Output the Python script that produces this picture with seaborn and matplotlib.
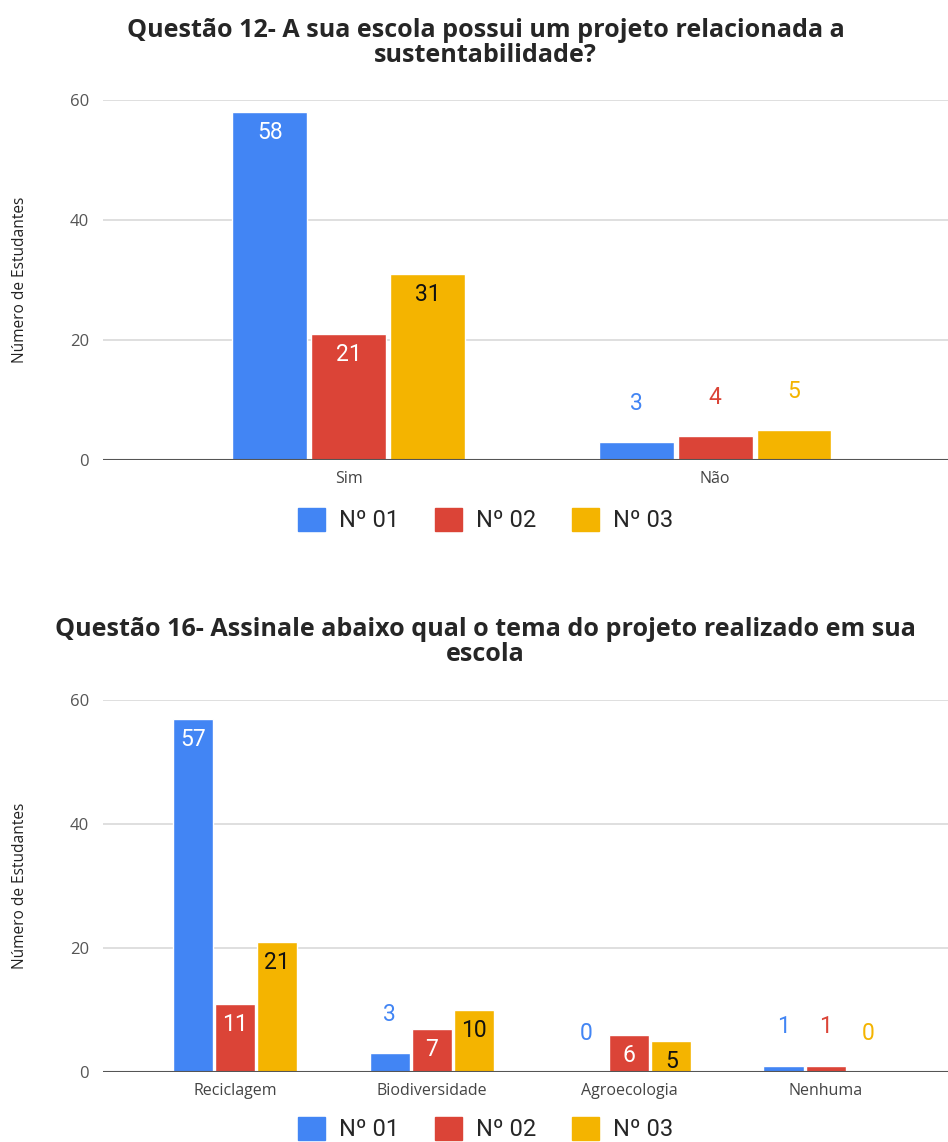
import pandas as pd
import matplotlib.pyplot as plt
import seaborn as sns

series = ['Nº 01', 'Nº 02', 'Nº 03']
colors = ['#4285F4', '#DB4437', '#F4B400']

q12_cats = ['Sim', 'Não']
q12_vals = {'Nº 01': [58, 3], 'Nº 02': [21, 4], 'Nº 03': [31, 5]}

q16_cats = ['Reciclagem', 'Biodiversidade', 'Agroecologia', 'Nenhuma']
q16_vals = {'Nº 01': [57, 3, 0, 1], 'Nº 02': [11, 7, 6, 1], 'Nº 03': [21, 10, 5, 0]}

title12 = 'Questão 12- A sua escola possui um projeto relacionada a\nsustentabilidade?'
title16 = 'Questão 16- Assinale abaixo qual o tema do projeto realizado em sua\nescola'


def to_long(cats, vals):
    rows = []
    for s in series:
        for c, v in zip(cats, vals[s]):
            rows.append({'cat': c, 'serie': s, 'n': v})
    return pd.DataFrame(rows)


def draw(ax, cats, vals, inside_min, right):
    df = to_long(cats, vals)
    sns.barplot(data=df, x='cat', y='n', hue='serie', hue_order=series,
                palette=colors, width=0.645, gap=0.05, ax=ax, legend=False,
                saturation=1)
    ax.set_xlim(-0.67, right)
    ax.set_ylim(0, 60)
    ax.set_yticks([0, 20, 40, 60])
    ax.grid(axis='y', color='#d9d9d9', lw=1.2)
    ax.set_axisbelow(True)
    for sp in ax.spines.values():
        sp.set_visible(False)
    ax.axhline(0, color='#555555', lw=1.5, zorder=3)
    ax.tick_params(axis='y', length=0, labelsize=12, colors='#555555', pad=10)
    ax.tick_params(axis='x', length=0, labelsize=11.5, colors='#444444', pad=8)
    ax.set_xlabel('')
    ax.set_ylabel('Número de Estudantes', fontsize=11.2, color='#222222', labelpad=30)
    for k, cont in enumerate(ax.containers):
        s = series[k]
        for p, v in zip(cont.patches, vals[s]):
            x = p.get_x() + p.get_width() / 2
            if v >= inside_min:
                tc = '#111111' if s == 'Nº 03' else 'white'
                ax.annotate(str(v), (x, v), xytext=(0, -15), textcoords='offset points',
                            ha='center', va='center', fontsize=16.5, color=tc,
                            family='Roboto')
            else:
                ax.annotate(str(v), (x, v), xytext=(0, 28), textcoords='offset points',
                            ha='center', va='center', fontsize=16.5, color=colors[k],
                            family='Roboto')


sns.set_theme(style='white')
plt.rcParams['font.family'] = ['Open Sans', 'DejaVu Sans']

fig = plt.figure(figsize=(9.48, 11.42), dpi=100)
ax1 = fig.add_axes([0.1087, 0.5972, 0.8913, 0.3152])
ax2 = fig.add_axes([0.1087, 0.0613, 0.8913, 0.3257])

draw(ax1, q12_cats, q12_vals, 10, 1.635)
draw(ax2, q16_cats, q16_vals, 5, 3.62)

fig.text(0.512, 1 - 43 / 1142, title12, ha='center', va='center', fontsize=18.1,
         fontweight='bold', linespacing=0.98)
fig.text(0.512, 1 - 642 / 1142, title16, ha='center', va='center', fontsize=18.1,
         fontweight='bold', linespacing=0.98)

handles = [plt.Rectangle((0, 0), 1, 1, color=c) for c in colors]
for y in [1 - 520 / 1142, 1 - 1129 / 1142]:
    fig.legend(handles, series, loc='center', bbox_to_anchor=(0.512, y), ncol=3,
               frameon=False, prop={'family': 'Roboto', 'size': 17},
               handlelength=1.15, handleheight=1.15, columnspacing=1.5, handletextpad=0.6,
               borderpad=0.2)

fig.savefig('out.png', dpi=100)
